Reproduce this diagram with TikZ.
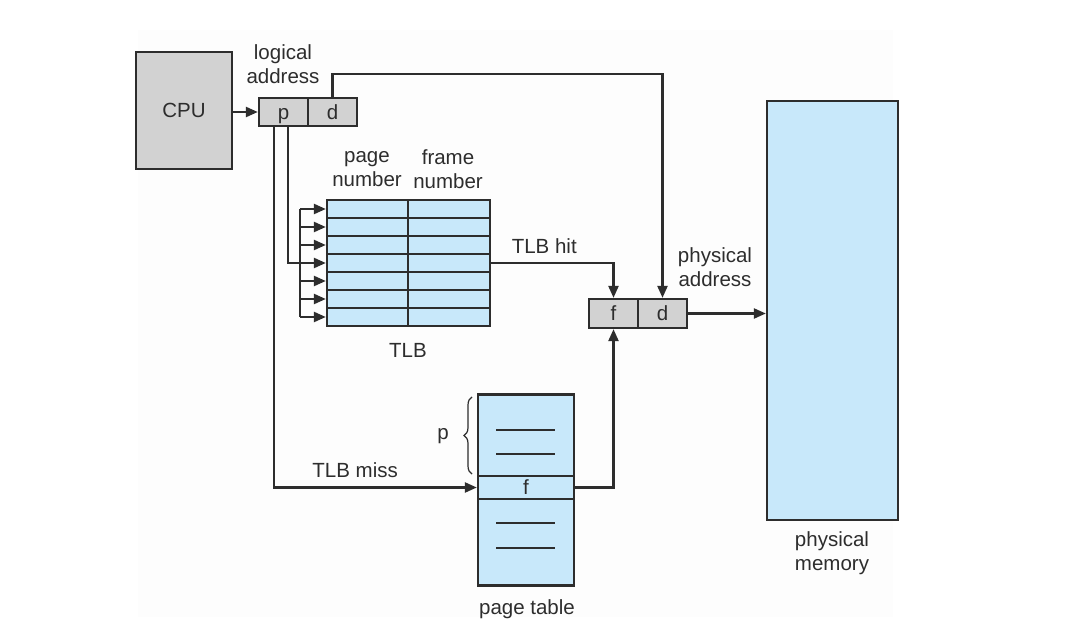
\documentclass[tikz,border=0pt]{standalone}
\usepackage{fontspec}
\setmainfont{Liberation Sans}
\usetikzlibrary{arrows.meta,decorations.pathreplacing}
\definecolor{cellblue}{RGB}{200,232,250}
\definecolor{boxgray}{RGB}{210,210,210}
\definecolor{ink}{RGB}{45,45,45}
\begin{document}
\begin{tikzpicture}[x=1pt, y=-1pt, font=\fontsize{20.5}{24}\selectfont, text=ink,
		line width=2.3pt, draw=ink,
		arr/.style={-{Triangle[length=12pt, width=10pt]}, ink, line width=2.3pt},
		graybox/.style={draw=ink, fill=boxgray, inner sep=0pt, text height=14.8pt, text depth=0pt},
		bluebox/.style={draw=ink, fill=cellblue, inner sep=0pt, text height=14.8pt, text depth=0pt},
		lbl/.style={align=center, inner sep=0pt}]
		\useasboundingbox (0,0) rectangle (1073,636);
		\fill[black!0.8] (138,30) rectangle (893,617);
		\node[graybox, minimum width=96pt, minimum height=117pt] (cpu) at (184,110.5) {CPU};
		\node[graybox, minimum width=49pt, minimum height=28pt] (p) at (283.5,112) {p};
		\node[graybox, minimum width=49pt, minimum height=28pt] (d) at (332.5,112) {d};
		\node[lbl] (la) at (283,64) {logical\\address};
		\foreach \i in {1,...,7} {
			\node[bluebox, minimum width=81pt, minimum height=18pt] (tp\i) at (367.5,191+18*\i) {};
			\node[bluebox, minimum width=82pt, minimum height=18pt] (tf\i) at (449,191+18*\i) {};
		}
		\node[lbl] (pn) at (367,169) {page\\number};
		\node[lbl] (fn) at (448,169) {frame\\number};
		\node[lbl] (tlb) at (408,350) {TLB};
		\node[graybox, minimum width=49pt, minimum height=29pt] (pf) at (613.5,313.5) {f};
		\node[graybox, minimum width=49pt, minimum height=29pt] (pd) at (662.5,313.5) {d};
		\node[lbl] (pa) at (715,267) {physical\\address};
		\node[bluebox, minimum width=131pt, minimum height=419pt] (mem) at (832.5,310.5) {};
		\node[lbl] (pm) at (832,553) {physical\\memory};
		\node[bluebox, minimum width=96pt, minimum height=191pt] (pt) at (526,490) {};
		\node[bluebox, minimum width=96pt, minimum height=23pt] (ptf) at (526,487.5) {f};
		\foreach \y in {430,454,523,548}
			\draw (496,\y) -- (555,\y);
		\draw[line width=1.2pt, decorate, decoration={brace, amplitude=8pt}] (472,474) -- (472,397);
		\node[lbl] (pp) at (443,436) {p};
		\node[lbl] (pgt) at (527,609) {page table};
		\coordinate (bus) at (300,0);
		\draw[arr] (cpu.east |- p.west) -- (p.west);
		\draw[arr] (d.north) -- ++(0,-23) -| (pd.north);
		\draw (tp1.west -| bus) -- (tp7.west -| bus);
		\foreach \i in {1,...,7}
			\draw[arr] (tp\i.west -| bus) -- (tp\i.west);
		\draw ([xshift=4.5pt]p.south) |- (tp4.west -| bus);
		\draw[arr] ([xshift=-9.5pt]p.south) |- (ptf.west) node[pos=0.70, above=9pt, lbl] {TLB miss};
		\draw[arr] (tf4.east) -| (pf.north) node[pos=0.217, above=8pt, lbl] {TLB hit};
		\draw[arr] (ptf.east) -| (pf.south);
		\draw[arr] (pd.east) -- (mem.west |- pd.east);
	\end{tikzpicture}
\end{document}
